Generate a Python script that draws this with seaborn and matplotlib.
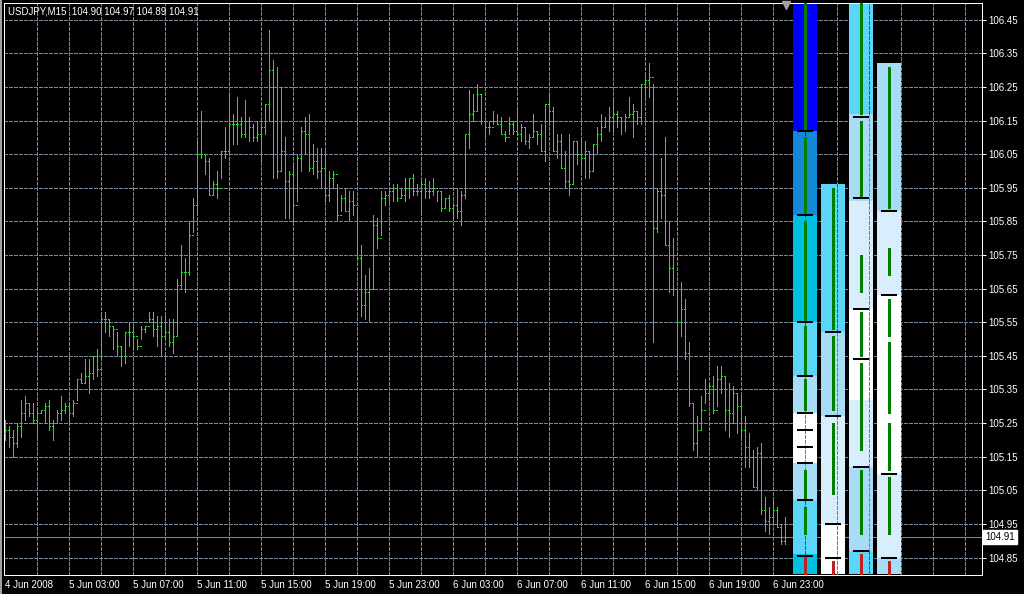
import numpy as np
import pandas as pd
import seaborn as sns
import matplotlib.pyplot as plt

# Quote data, USDJPY M15, 4 Jun 2008 23:00 -> 6 Jun 2008 23:45
symbol = 'USDJPY,M15'
header_ohlc = ['104.90', '104.97', '104.89', '104.91']
last_price = 104.91
first_open = 105.22

highs = [
    105.26, 105.24, 105.23, 105.25, 105.32, 105.33, 105.31, 105.31, 105.29, 105.29,
    105.31, 105.32, 105.26, 105.29, 105.33, 105.31, 105.31, 105.32, 105.38, 105.40,
    105.44, 105.44, 105.45, 105.47, 105.58, 105.58, 105.56, 105.54, 105.52, 105.48,
    105.52, 105.55, 105.54, 105.50, 105.54, 105.54, 105.58, 105.58, 105.57, 105.57,
    105.57, 105.56, 105.56, 105.68, 105.78, 105.74, 105.85, 105.92, 106.09,
    106.18, 106.05, 106.04, 105.97, 106.00, 106.06, 106.13, 106.23, 106.17, 106.22,
    106.16, 106.21, 106.16, 106.14, 106.15, 106.14, 106.20, 106.42, 106.33, 106.31,
    106.25, 106.10, 106.00, 106.02, 106.05, 106.13, 106.16, 106.17, 106.08, 106.07,
    106.07, 106.06, 106.00, 106.00, 105.96, 105.93, 105.95, 105.94, 105.94, 105.89,
    105.78, 105.69, 105.71, 105.87, 105.86, 105.94, 105.94, 105.95, 105.96,
    105.96, 105.95, 105.98, 105.98, 105.99, 105.96, 105.97, 105.98, 105.97, 105.98,
    105.94, 105.94, 105.92, 105.93, 105.90, 105.95, 105.94, 106.11, 106.24, 106.23,
    106.26, 106.23, 106.15, 106.15, 106.18, 106.17, 106.16, 106.12, 106.16, 106.15,
    106.19, 106.14, 106.13, 106.11, 106.17, 106.12, 106.14, 106.20, 106.23, 106.19,
    106.11, 106.11, 106.06, 106.11, 106.09, 106.09, 106.10, 106.09,
    106.06, 106.08, 106.13, 106.17, 106.16, 106.19, 106.22, 106.18, 106.16, 106.17,
    106.22, 106.20, 106.18, 106.26, 106.29, 106.32, 106.26, 105.95, 106.04, 106.10,
    105.85, 105.80, 105.65, 105.67, 105.62, 105.49, 105.31, 105.27, 105.33, 105.38,
    105.37, 105.39, 105.42, 105.42, 105.39, 105.37, 105.36, 105.34, 105.33, 105.27,
    105.22, 105.17, 105.18, 105.19, 105.03, 105.00, 105.02, 105.00, 104.95, 104.97,
]
lows = [
    105.20, 105.18, 105.15, 105.18, 105.21, 105.26, 105.27, 105.25, 105.21, 105.28,
    105.25, 105.23, 105.20, 105.25, 105.26, 105.28, 105.25, 105.27, 105.32, 105.37,
    105.37, 105.34, 105.38, 105.39, 105.44, 105.52, 105.51, 105.47, 105.45, 105.42,
    105.43, 105.48, 105.47, 105.47, 105.50, 105.52, 105.55, 105.51, 105.48, 105.45,
    105.50, 105.48, 105.46, 105.51, 105.65, 105.64, 105.69, 105.82, 105.87,
    106.04, 105.99, 105.93, 105.93, 105.92, 105.98, 106.04, 106.05, 106.08, 106.08,
    106.10, 106.10, 106.09, 106.09, 106.09, 106.03, 106.11, 106.15, 105.98, 105.98,
    106.00, 105.86, 105.86, 105.85, 105.91, 106.00, 106.05, 106.00, 105.99, 105.98,
    105.95, 105.91, 105.91, 105.95, 105.85, 105.88, 105.88, 105.85, 105.87, 105.74,
    105.57, 105.56, 105.55, 105.65, 105.77, 105.81, 105.90, 105.91, 105.91,
    105.91, 105.92, 105.91, 105.92, 105.93, 105.93, 105.87, 105.92, 105.92, 105.93,
    105.91, 105.88, 105.89, 105.88, 105.86, 105.86, 105.84, 105.92, 106.07, 106.15,
    106.18, 106.14, 106.10, 106.11, 106.14, 106.14, 106.11, 106.09, 106.11, 106.11,
    106.11, 106.09, 106.08, 106.07, 106.10, 106.08, 106.06, 106.03, 106.14, 106.06,
    106.04, 106.01, 105.95, 105.93, 105.96, 106.02, 106.00, 105.98,
    105.98, 106.00, 106.05, 106.09, 106.13, 106.12, 106.12, 106.13, 106.11, 106.12,
    106.16, 106.10, 106.14, 106.14, 106.21, 106.22, 105.49, 105.82, 105.86, 105.78,
    105.64, 105.63, 105.41, 105.51, 105.44, 105.30, 105.17, 105.15, 105.23, 105.31,
    105.32, 105.28, 105.30, 105.34, 105.23, 105.21, 105.25, 105.22, 105.20, 105.12,
    105.12, 105.06, 105.05, 104.98, 104.93, 104.92, 104.95, 104.94, 104.89, 104.89,
]
closes = [
    105.23, 105.21, 105.19, 105.24, 105.28, 105.31, 105.28, 105.26, 105.28, 105.29,
    105.30, 105.24, 105.25, 105.28, 105.29, 105.30, 105.28, 105.31, 105.38, 105.37,
    105.39, 105.40, 105.45, 105.41, 105.56, 105.56, 105.54, 105.53, 105.48, 105.45,
    105.52, 105.52, 105.51, 105.48, 105.53, 105.54, 105.56, 105.53, 105.54, 105.51,
    105.52, 105.49, 105.51, 105.66, 105.70, 105.70, 105.81, 105.90, 106.05,
    106.05, 106.03, 105.93, 105.96, 105.95, 106.06, 106.06, 106.14, 106.14, 106.14,
    106.11, 106.15, 106.13, 106.10, 106.11, 106.13, 106.20, 106.30, 106.15, 106.00,
    106.06, 105.97, 105.99, 105.90, 106.04, 106.12, 106.11, 106.01, 106.03, 106.00,
    106.01, 105.93, 105.98, 105.99, 105.87, 105.92, 105.88, 105.91, 105.90, 105.74,
    105.60, 105.64, 105.65, 105.84, 105.80, 105.92, 105.93, 105.94, 105.95,
    105.92, 105.93, 105.95, 105.98, 105.94, 105.94, 105.96, 105.94, 105.94, 105.95,
    105.94, 105.89, 105.92, 105.89, 105.90, 105.88, 105.93, 106.11, 106.17, 106.18,
    106.23, 106.15, 106.13, 106.13, 106.15, 106.14, 106.11, 106.10, 106.14, 106.12,
    106.11, 106.13, 106.09, 106.10, 106.12, 106.11, 106.06, 106.20, 106.18, 106.06,
    106.09, 106.01, 105.97, 105.96, 106.09, 106.05, 106.04, 106.06,
    106.00, 106.08, 106.11, 106.13, 106.15, 106.16, 106.17, 106.16, 106.15, 106.16,
    106.17, 106.18, 106.16, 106.26, 106.27, 106.28, 105.83, 105.94, 105.93, 105.78,
    105.71, 105.65, 105.55, 105.59, 105.46, 105.31, 105.19, 105.23, 105.29, 105.34,
    105.36, 105.29, 105.38, 105.39, 105.29, 105.28, 105.34, 105.30, 105.23, 105.18,
    105.15, 105.06, 105.16, 104.99, 104.96, 104.97, 104.99, 104.94, 104.90, 104.91,
]
opens = [first_open] + closes[:-1]
bar_times = pd.date_range('2008-06-04 23:00', periods=len(closes), freq='15min')

price_labels = ['104.85', '104.95', '105.05', '105.15', '105.25', '105.35', '105.45',
                '105.55', '105.65', '105.75', '105.85', '105.95', '106.05', '106.15',
                '106.25', '106.35', '106.45']

# indicator columns drawn right of the last bar: (bottom, top, shade)
col1_zones = [(106.12, 106.50, 6), (105.87, 106.12, 5), (105.55, 105.87, 4), (105.39, 105.55, 3),
              (105.28, 105.39, 2), (105.13, 105.28, 0), (105.02, 105.13, 2), (104.86, 105.02, 3),
              (104.80, 104.86, 4)]
col2_zones = [(105.52, 105.96, 3), (105.27, 105.52, 2), (104.95, 105.27, 1), (104.80, 104.95, 0)]
col3_zones = [(106.17, 106.50, 3), (105.91, 106.17, 2), (105.59, 105.91, 1), (105.32, 105.59, 0),
              (105.12, 105.32, 1), (104.87, 105.12, 2), (104.80, 104.87, 3)]
col4_zones = [(105.88, 106.32, 2), (105.63, 105.88, 1), (105.10, 105.63, 0), (104.85, 105.10, 1),
              (104.80, 104.85, 2)]

col1_marks = [106.12, 105.87, 105.55, 105.39, 105.28, 105.23, 105.18, 105.13, 105.02, 104.855]
col2_marks = [105.52, 105.27, 104.95, 104.85]
col3_marks = [106.16, 105.92, 105.59, 105.44, 105.12, 104.87]
col4_marks = [105.88, 105.63, 105.10, 104.85]

col1_green = [(106.12, 106.50), (105.87, 106.10), (105.55, 105.85), (105.39, 105.54),
              (105.29, 105.38), (105.02, 105.11), (104.92, 105.00)]
col2_green = [(105.53, 105.95), (105.29, 105.51), (105.04, 105.25)]
col3_green = [(106.17, 106.50), (105.92, 106.15), (105.64, 105.75), (105.45, 105.58),
              (105.17, 105.43), (104.92, 105.11)]
col4_green = [(105.89, 106.31), (105.69, 105.77), (105.51, 105.62), (105.28, 105.49),
              (105.11, 105.25), (104.92, 105.09)]
red_tops = [104.855, 104.84, 104.86, 104.84]

shade_colors = ['#ffffff', '#d9eefc', '#a8dcf6', '#5cd5fa', '#00bfe0', '#1588d8', '#0000ff']
grid_color = '#778899'
bar_color = '#2cdc2c'

sns.set_theme(style='dark', rc={'axes.facecolor': 'black', 'figure.facecolor': 'black'})
plt.rcParams['font.family'] = ['Liberation Sans', 'DejaVu Sans']

px = 72 / 100  # one pixel in points
fig = plt.figure(figsize=(10.24, 5.94), dpi=100)
ax = fig.add_axes([4 / 1024, 19 / 594, 978 / 1024, 572 / 594])
ax.set_facecolor('black')
ax.set_xlim(-0.25, 244.25)
ax.set_ylim(104.798, 106.50)
ax.grid(False)

ticks = np.array([float(p) for p in price_labels])
xs = np.arange(len(closes))

# grid
ax.hlines(ticks, -0.25, 244.25, color=grid_color, lw=px, linestyle=(0, (3, 2)),
          antialiased=False, zorder=1)
vgrid = np.arange(8, 245, 8)
ax.vlines(vgrid, 104.798, 106.50, color=grid_color, lw=px, linestyle=(0, (3, 2)),
          antialiased=False, zorder=1)

# last price line
ax.axhline(last_price, color=grid_color, lw=px, antialiased=False, zorder=1.5)

# OHLC bars
ax.vlines(xs, lows, highs, color=bar_color, lw=px, antialiased=False, zorder=3)
ax.hlines(opens, xs - 0.35, xs, color=bar_color, lw=px, antialiased=False, zorder=3)
ax.hlines(closes, xs, xs + 0.35, color=bar_color, lw=px, antialiased=False, zorder=3)

# indicator columns
columns = [(col1_zones, col1_marks, col1_green), (col2_zones, col2_marks, col2_green),
           (col3_zones, col3_marks, col3_green), (col4_zones, col4_marks, col4_green)]
gc = int(grid_color[1:], 16)
for i, (zones, marks, greens) in enumerate(columns):
    start = len(closes) + 1 + 7 * i
    centre = start + 3
    for lo, hi, shade in zones:
        ax.bar(start, hi - lo, bottom=lo, width=6, align='edge', color=shade_colors[shade],
               linewidth=0, zorder=2)
        # grid drawn through the column in xor mode
        for g in vgrid[(vgrid > start) & (vgrid < start + 6)]:
            xc = '#%06x' % (gc ^ int(shade_colors[shade][1:], 16))
            ax.vlines(g, lo, hi, color=xc, lw=px, linestyle=(0, (3, 2)),
                      antialiased=False, zorder=2.5)
    for lo, hi in greens:
        ax.vlines(centre, lo, hi, color='#008000', lw=3 * px, antialiased=False, zorder=4)
    ax.vlines(centre, 104.798, red_tops[i], color='#c02020', lw=3 * px, antialiased=False, zorder=4)
    ax.hlines(marks, centre - 2.1, centre + 2.1, color='black', lw=2 * px,
              antialiased=False, zorder=5)

# axes frame and tick labels
for s in ax.spines.values():
    s.set_color('white')
    s.set_linewidth(px)
ax.yaxis.tick_right()
ax.set_yticks(ticks)
ax.set_yticklabels(price_labels)
label_pos = list(range(0, len(closes), 16))
label_txt = []
for p in label_pos:
    t = bar_times[p]
    label_txt.append(f'{t.day} {t:%b %Y}' if p == 0 else f'{t.day} {t:%b %H:%M}')
ax.set_xticks(label_pos)
ax.set_xticklabels(label_txt, ha='left')
ax.tick_params(axis='both', colors='white', labelsize=7, width=px, length=4 * px,
               direction='out', pad=1.5)
ax.tick_params(axis='x', pad=1)

ax.annotate(f'{last_price:.2f}', xy=(1.0, last_price), xycoords=('axes fraction', 'data'),
            xytext=(3 * px, 0), textcoords='offset points', va='center', ha='left',
            fontsize=7, color='black',
            bbox=dict(boxstyle='square,pad=0.2', fc='white', ec='white'))

# chart shift marker
ax.plot(195.25, 106.494, marker='v', ms=6, color='#a0a0a0', clip_on=False, zorder=6)

# window frame on the left edge
fig.add_artist(plt.Line2D([1 / 1024, 1 / 1024], [0, 1], color='#a0a0a0', lw=2 * px))

fig.text(8 / 1024, 1 - 11 / 594, f"{symbol}  {' '.join(header_ohlc)}", color='white',
         fontsize=7, va='center', ha='left')

fig.savefig('out.png', dpi=100, facecolor='black')
